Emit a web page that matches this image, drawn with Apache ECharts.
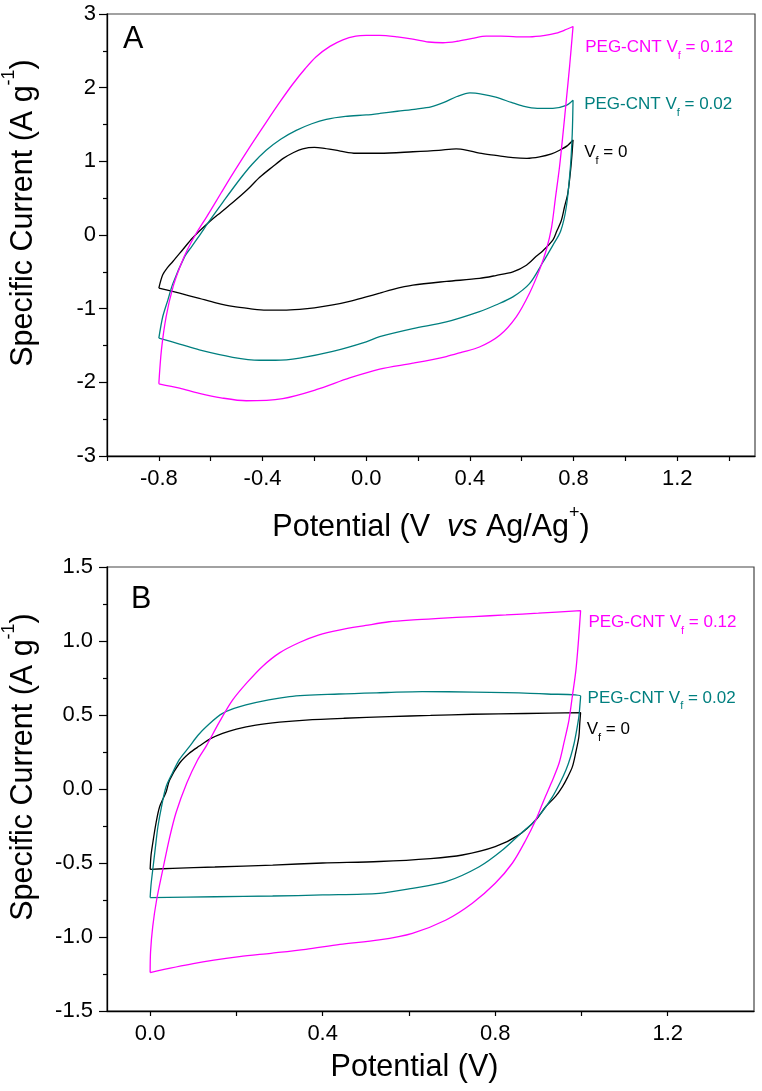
<!DOCTYPE html>
<html>
<head>
<meta charset="utf-8">
<script src="https://cdn.jsdelivr.net/npm/echarts@6/dist/echarts.min.js"></script>
<style>
html,body{margin:0;padding:0;background:#fff;}
#chart{width:762px;height:1091px;}
</style>
</head>
<body>
<div id="chart"></div>
<script>
// ---------- DATA ----------
const seriesNames = ['PEG-CNT Vf = 0.12', 'PEG-CNT Vf = 0.02', 'Vf = 0'];
const labelVf = ['0.12', '0.02', '0'];

const panelA_xTicks = [-1.0,-0.8,-0.6,-0.4,-0.2,0,0.2,0.4,0.6,0.8,1.0,1.2,1.4];
const panelA_xLabels = [-0.8,-0.4,0,0.4,0.8,1.2];
const panelB_xTicks = [0,0.2,0.4,0.6,0.8,1.0,1.2];
const panelB_xLabels = [0,0.4,0.8,1.2];

// Panel A  (Potential V vs Ag/Ag+, Specific current A/g)
const A_vf012 = [
 [-0.80,-2.02],[-0.79,-1.56],[-0.772,-1.11],[-0.745,-0.70],[-0.715,-0.40],[-0.69,-0.20],[-0.656,0.02],
 [-0.615,0.25],[-0.56,0.57],[-0.515,0.83],[-0.45,1.19],[-0.386,1.53],[-0.33,1.82],[-0.283,2.05],
 [-0.235,2.26],[-0.193,2.42],[-0.14,2.56],[-0.09,2.65],[-0.04,2.70],[0.0,2.71],[0.052,2.71],[0.12,2.69],[0.18,2.66],
 [0.24,2.62],[0.296,2.61],[0.35,2.63],[0.41,2.67],[0.463,2.70],[0.52,2.70],[0.579,2.69],[0.63,2.69],
 [0.69,2.71],[0.733,2.74],[0.765,2.78],[0.798,2.83],
 [0.785,2.30],[0.772,1.83],[0.76,1.40],[0.746,0.93],[0.73,0.50],[0.715,0.10],[0.695,-0.20],[0.669,-0.47],
 [0.63,-0.79],[0.579,-1.11],[0.515,-1.36],[0.437,-1.52],[0.37,-1.59],[0.309,-1.65],[0.18,-1.74],
 [0.052,-1.82],[-0.064,-1.94],[-0.193,-2.10],[-0.322,-2.22],[-0.463,-2.25],[-0.56,-2.21],[-0.644,-2.15],
 [-0.72,-2.08],[-0.80,-2.02]
];
const A_vf002 = [
 [-0.80,-1.40],[-0.785,-1.11],[-0.765,-0.88],[-0.746,-0.66],[-0.70,-0.29],[-0.676,-0.17],[-0.64,0.01],
 [-0.611,0.16],[-0.55,0.46],[-0.489,0.75],[-0.44,0.96],[-0.386,1.15],[-0.33,1.30],[-0.27,1.42],
 [-0.21,1.51],[-0.154,1.57],[-0.08,1.61],[0.0,1.63],[0.052,1.65],[0.12,1.68],[0.193,1.71],[0.25,1.74],
 [0.30,1.80],[0.35,1.88],[0.40,1.93],[0.45,1.91],[0.50,1.87],[0.56,1.80],
 [0.605,1.75],[0.66,1.72],[0.72,1.72],[0.772,1.76],[0.798,1.83],
 [0.795,1.38],[0.788,0.93],[0.772,0.38],[0.75,0.05],[0.72,-0.14],[0.68,-0.38],[0.63,-0.66],[0.566,-0.84],
 [0.50,-0.95],[0.437,-1.04],[0.309,-1.18],[0.18,-1.27],[0.052,-1.38],[0.0,-1.45],[-0.129,-1.58],
 [-0.257,-1.67],[-0.35,-1.70],[-0.412,-1.70],[-0.515,-1.66],[-0.644,-1.56],[-0.72,-1.48],[-0.80,-1.40]
];
const A_vf0 = [
 [-0.80,-0.72],[-0.785,-0.54],[-0.766,-0.44],[-0.746,-0.36],[-0.708,-0.20],[-0.67,-0.04],[-0.611,0.16],
 [-0.56,0.31],[-0.515,0.44],[-0.46,0.61],[-0.412,0.78],[-0.36,0.93],[-0.32,1.04],[-0.28,1.12],
 [-0.245,1.17],[-0.20,1.19],[-0.168,1.18],[-0.10,1.14],[-0.04,1.11],[0.0,1.11],[0.052,1.11],
 [0.18,1.13],[0.28,1.15],[0.347,1.17],[0.39,1.15],[0.437,1.11],[0.50,1.08],[0.566,1.05],[0.62,1.04],
 [0.669,1.06],[0.715,1.10],[0.746,1.15],[0.775,1.21],[0.798,1.29],
 [0.79,0.93],[0.778,0.57],[0.765,0.38],[0.753,0.20],[0.735,0.05],[0.72,-0.07],[0.68,-0.22],
 [0.656,-0.29],[0.618,-0.41],[0.566,-0.50],[0.50,-0.55],[0.437,-0.59],[0.31,-0.63],[0.18,-0.68],
 [0.10,-0.74],[0.052,-0.79],[0.0,-0.84],[-0.064,-0.90],[-0.129,-0.95],[-0.20,-0.99],[-0.257,-1.01],
 [-0.32,-1.02],[-0.386,-1.02],[-0.45,-1.00],[-0.515,-0.97],[-0.58,-0.92],[-0.644,-0.86],[-0.72,-0.79],
 [-0.80,-0.72]
];

// Panel B  (Potential V, Specific current A/g)
const B_vf012 = [
 [0.0,-1.24],[0.001,-1.10],[0.006,-0.93],[0.015,-0.75],[0.029,-0.55],[0.045,-0.33],[0.06,-0.16],
 [0.085,0.04],[0.11,0.196],[0.13,0.29],[0.16,0.45],[0.191,0.60],[0.225,0.72],[0.261,0.83],[0.30,0.92],
 [0.346,0.99],[0.39,1.04],[0.438,1.074],[0.50,1.105],[0.554,1.13],[0.61,1.143],[0.67,1.153],
 [0.75,1.165],[0.825,1.176],[0.90,1.188],[0.998,1.205],
 [0.993,1.00],[0.987,0.80],[0.979,0.63],[0.971,0.466],[0.96,0.32],[0.948,0.174],[0.93,0.04],
 [0.913,-0.074],[0.894,-0.21],[0.871,-0.345],[0.84,-0.50],[0.80,-0.637],[0.747,-0.772],[0.686,-0.885],
 [0.608,-0.975],[0.531,-1.02],[0.44,-1.05],[0.361,-1.083],[0.28,-1.11],[0.207,-1.133],[0.10,-1.18],
 [0.0,-1.24]
];
const B_vf002 = [
 [0.0,-0.734],[0.002,-0.65],[0.006,-0.547],[0.012,-0.40],[0.018,-0.255],[0.027,-0.11],[0.037,0.016],
 [0.052,0.11],[0.068,0.20],[0.091,0.286],[0.11,0.36],[0.13,0.421],[0.168,0.511],[0.222,0.568],
 [0.323,0.624],[0.438,0.642],[0.55,0.652],[0.631,0.658],[0.75,0.655],[0.825,0.651],[0.92,0.642],
 [0.998,0.628],
 [0.996,0.55],[0.994,0.489],[0.989,0.40],[0.983,0.309],[0.975,0.22],[0.964,0.128],[0.95,0.04],
 [0.933,-0.052],[0.91,-0.15],[0.886,-0.232],[0.863,-0.29],[0.817,-0.412],[0.763,-0.525],[0.686,-0.626],
 [0.608,-0.671],[0.531,-0.705],[0.40,-0.716],[0.284,-0.723],[0.15,-0.728],[0.0,-0.734]
];
const B_vf0 = [
 [0.0,-0.543],[0.002,-0.45],[0.006,-0.367],[0.013,-0.24],[0.022,-0.12],[0.037,-0.02],[0.045,0.06],
 [0.068,0.174],[0.09,0.24],[0.114,0.29],[0.14,0.34],[0.168,0.376],[0.20,0.405],[0.245,0.432],
 [0.30,0.452],[0.361,0.466],[0.45,0.478],[0.554,0.489],[0.65,0.497],[0.747,0.505],[0.87,0.51],
 [0.998,0.516],
 [0.996,0.44],[0.994,0.353],[0.987,0.25],[0.979,0.151],[0.968,0.08],[0.956,0.016],[0.94,-0.05],
 [0.917,-0.12],[0.894,-0.21],[0.855,-0.31],[0.80,-0.39],[0.724,-0.446],[0.65,-0.47],[0.531,-0.49],
 [0.40,-0.50],[0.284,-0.514],[0.15,-0.527],[0.052,-0.536],[0.0,-0.543]
];

// ---------- STYLE / LAYOUT ----------
const FONT = '"Liberation Sans", Arial, Helvetica, sans-serif';
const COLORS = ['#ff00ff', '#007f7f', '#000000'];
const panelAData = [A_vf012, A_vf002, A_vf0];
const panelBData = [B_vf012, B_vf002, B_vf0];
// label anchors (data coords) for the curve annotations
const A_anchor = [[0.843, 2.51], [0.839, 1.737], [0.839, 1.085]];
const B_anchor = [[1.015, 1.108], [1.013, 0.595], [1.011, 0.385]];

function labelRich(color) {
  return {
    t: {fontSize: 17, fontFamily: FONT, color: color, lineHeight: 20, verticalAlign: 'top'},
    s: {fontSize: 11, fontFamily: FONT, color: color, lineHeight: 22, verticalAlign: 'bottom'}
  };
}
function labelText(i) {
  return (i < 2 ? '{t|PEG-CNT V}' : '{t|V}') + '{s|f}' + '{t| = ' + labelVf[i] + '}';
}

function makeSeries(dataList, axisIdx, anchors) {
  return dataList.map((d, i) => ({
    type: 'line',
    name: seriesNames[i],
    xAxisIndex: axisIdx, yAxisIndex: axisIdx,
    data: d,
    showSymbol: false, symbol: 'none',
    smooth: 0.3,
    lineStyle: {color: COLORS[i], width: 1.3},
    z: 3 - i,
    silent: true,
    markPoint: {
      silent: true,
      symbol: 'circle', symbolSize: 1,
      itemStyle: {color: 'rgba(0,0,0,0)'},
      label: {show: true, position: 'right', distance: 0, formatter: labelText(i), rich: labelRich(COLORS[i])},
      data: [{coord: anchors[i]}]
    }
  }));
}

const axisLineStyle = {show: true, onZero: false, lineStyle: {color: '#000', width: 1.3}};
const tickStyle = {color: '#000', width: 1.2};
const tickLabel = {fontSize: 22, color: '#000', fontFamily: FONT};
const nameRich = {
  m: {fontSize: 30.5, fontFamily: FONT, color: '#000', lineHeight: 39, verticalAlign: 'bottom'},
  i: {fontSize: 30.5, fontFamily: FONT, color: '#000', lineHeight: 39, verticalAlign: 'bottom', fontStyle: 'italic'},
  p: {fontSize: 18, fontFamily: FONT, color: '#000', lineHeight: 20, verticalAlign: 'top'}
};

const option = {
  animation: false,
  backgroundColor: '#fff',
  title: [
    {text: 'A', left: 123, top: 24, padding: 0, textStyle: {fontSize: 30.5, fontWeight: 'normal', fontFamily: FONT, color: '#000'}},
    {text: 'B', left: 131, top: 584, padding: 0, textStyle: {fontSize: 30.5, fontWeight: 'normal', fontFamily: FONT, color: '#000'}}
  ],
  grid: [
    {left: 107, top: 14, width: 648, height: 442, show: true, borderColor: '#444', borderWidth: 1.2,
     containLabel: false, outerBoundsMode: 'none'},
    {left: 107, top: 567, width: 647, height: 444, show: true, borderColor: '#444', borderWidth: 1.2,
     containLabel: false, outerBoundsMode: 'none'}
  ],
  xAxis: [
    {
      gridIndex: 0, type: 'value', min: -1.0, max: 1.5,
      axisLine: axisLineStyle,
      axisTick: {show: true, customValues: panelA_xTicks, length: 5, lineStyle: tickStyle},
      axisLabel: Object.assign({customValues: panelA_xLabels, margin: 12, formatter: v => Number(v).toFixed(1)}, tickLabel),
      splitLine: {show: false},
      name: '{m|Potential (V  }{i|vs}{m| Ag/Ag}{p|+}{m|)}',
      nameLocation: 'middle', nameGap: 48,
      nameTextStyle: {rich: nameRich}
    },
    {
      gridIndex: 1, type: 'value', min: -0.1, max: 1.4,
      axisLine: axisLineStyle,
      axisTick: {show: true, customValues: panelB_xTicks, length: 5, lineStyle: tickStyle},
      axisLabel: Object.assign({customValues: panelB_xLabels, margin: 12, formatter: v => Number(v).toFixed(1)}, tickLabel),
      splitLine: {show: false},
      name: '{m|Potential (V)}',
      nameLocation: 'middle', nameGap: 33,
      nameTextStyle: {rich: nameRich, padding: [0, 32, 0, 0]}
    }
  ],
  yAxis: [
    {
      gridIndex: 0, type: 'value', min: -3, max: 3, interval: 1,
      axisLine: axisLineStyle,
      axisTick: {show: true, length: 8, lineStyle: tickStyle},
      minorTick: {show: true, splitNumber: 2, length: 4, lineStyle: tickStyle},
      splitLine: {show: false}, minorSplitLine: {show: false},
      axisLabel: Object.assign({margin: 11}, tickLabel),
      name: '{m|Specific Current (A g}{p|-1}{m|)}',
      nameLocation: 'middle', nameGap: 68,
      nameTextStyle: {rich: nameRich, padding: [0, 0, 0, 44]}
    },
    {
      gridIndex: 1, type: 'value', min: -1.5, max: 1.5, interval: 0.5,
      axisLine: axisLineStyle,
      axisTick: {show: true, length: 8, lineStyle: tickStyle},
      minorTick: {show: true, splitNumber: 2, length: 4, lineStyle: tickStyle},
      splitLine: {show: false}, minorSplitLine: {show: false},
      axisLabel: Object.assign({margin: 14, formatter: v => Number(v).toFixed(1)}, tickLabel),
      name: '{m|Specific Current (A g}{p|-1}{m|)}',
      nameLocation: 'middle', nameGap: 68,
      nameTextStyle: {rich: nameRich, padding: [0, 0, 0, 44]}
    }
  ],
  series: makeSeries(panelAData, 0, A_anchor).concat(makeSeries(panelBData, 1, B_anchor))
};

const chart = echarts.init(document.getElementById('chart'), null, {renderer: 'canvas'});
chart.setOption(option);
</script>
</body>
</html>
